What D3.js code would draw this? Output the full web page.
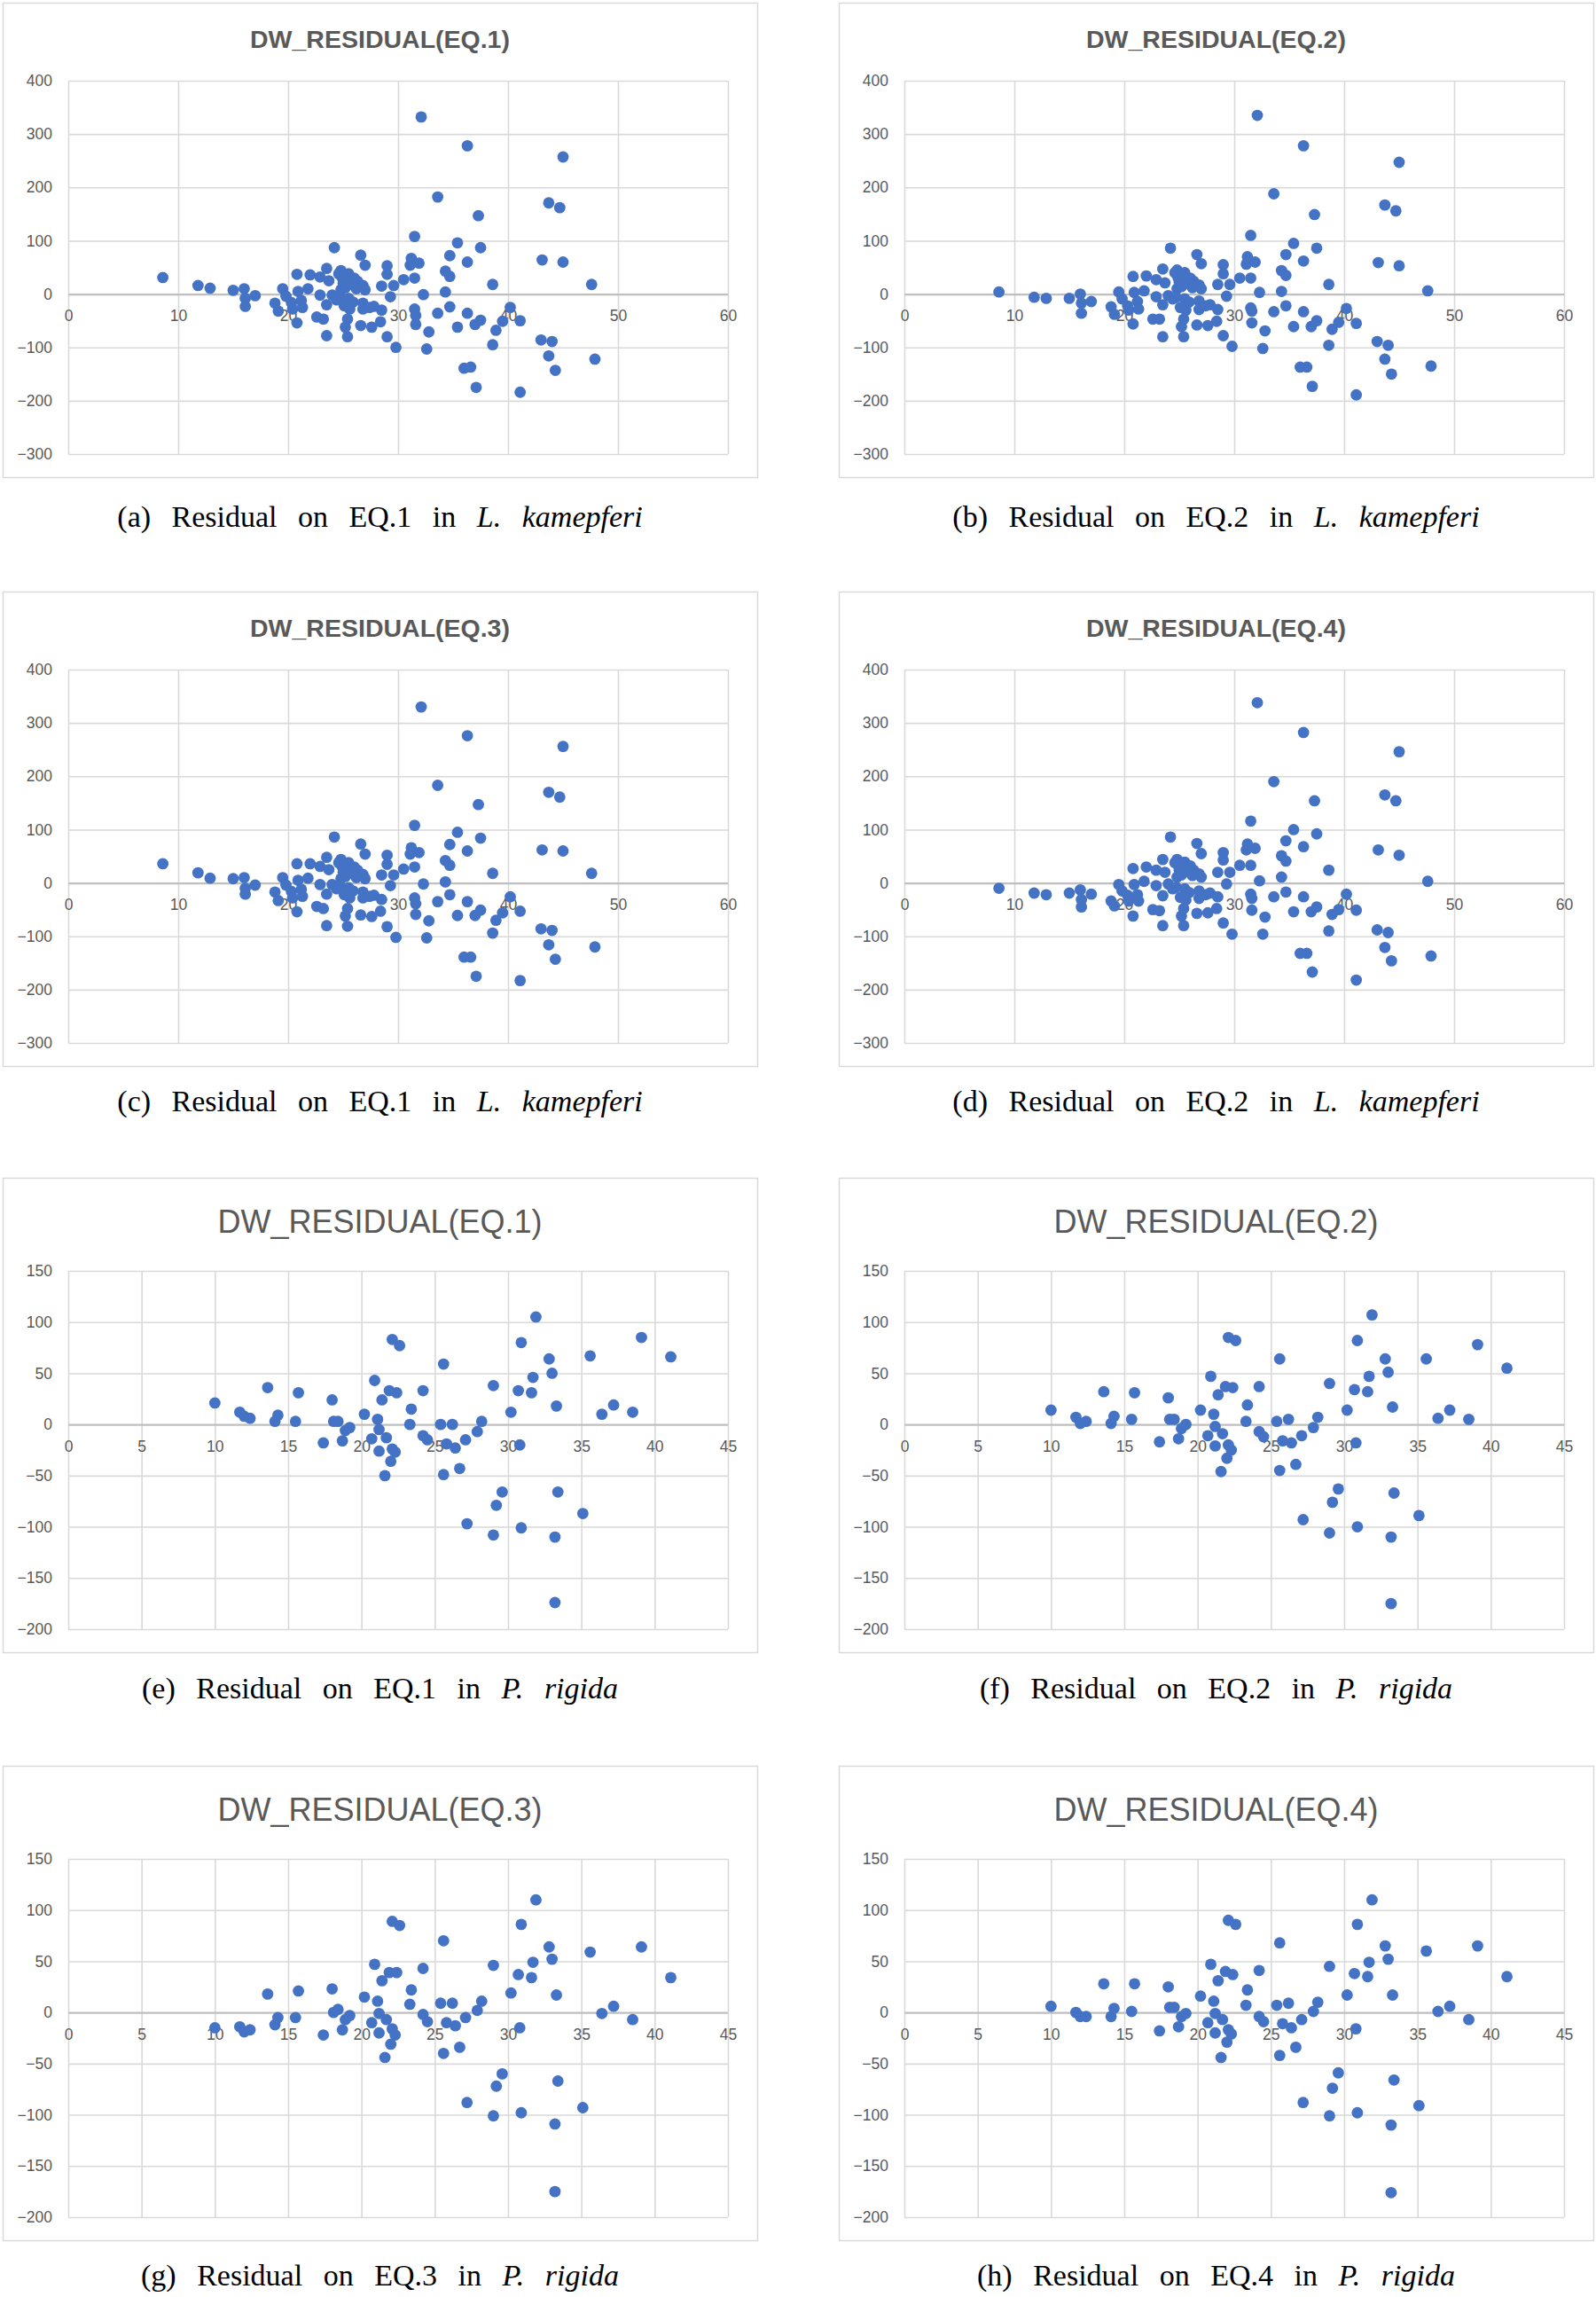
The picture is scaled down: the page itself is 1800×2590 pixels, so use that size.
<!DOCTYPE html>
<html><head><meta charset="utf-8">
<script src="https://cdnjs.cloudflare.com/ajax/libs/d3/7.8.5/d3.min.js"></script>
<style>body{margin:0;background:#fff}svg{display:block}</style>
</head><body>
<script>
// ---- L. kaempferi (top two rows): DBH (x) and residuals per equation ----
const xL = [8.6,11.8,12.9,15.0,16.0,16.1,16.1,17.0,18.8,19.1,19.5,19.8,20.3,20.4,20.8,20.8,20.9,21.2,21.3,21.8,22.0,22.6,22.9,22.9,23.2,23.5,23.5,23.5,23.7,24.0,24.2,24.4,24.8,24.8,24.9,25.1,25.2,25.4,25.4,25.5,25.5,25.7,26.3,26.6,26.6,26.8,26.8,26.8,27.0,27.0,27.4,27.6,27.8,28.4,28.5,28.5,29.0,29.0,29.0,29.3,29.6,29.8,30.5,31.1,31.2,31.5,31.5,31.5,31.6,31.6,31.9,32.1,32.3,32.6,32.8,33.6,33.6,34.3,34.3,34.7,34.7,34.7,35.4,35.4,36.0,36.3,36.3,36.3,36.6,37.0,37.1,37.3,37.5,37.5,38.6,38.6,38.9,39.5,40.2,41.1,41.1,43.0,43.1,43.7,43.7,44.0,44.3,44.7,45.0,45.0,47.6,47.9,24.6,25.0,25.2,25.3,25.8,26.0,25.9,25.6,24.7,26.2];
const resEq1L = [31,16,11,7,10,-8,-23,-3,-17,-32,10,-4,-16,-28,37,-54,5,-12,-25,10,36,-43,32,-2,-47,48,-20,-78,25,-2,87,-11,44,8,31,-22,-62,-47,-80,38,-8,27,24,73,-59,16,-17,-28,54,8,-25,-62,-23,-52,-30,15,53,37,-80,-5,16,-100,27,54,67,108,30,-28,-40,-57,58,332,-1,-103,-71,182,-36,4,43,33,72,-24,96,-62,-139,278,60,-36,-137,-57,-175,147,87,-49,-95,18,-68,-51,-25,-50,-184,-86,64,171,-116,-89,-143,162,60,257,18,-122,38,20,12,33,18,30,-15,-28,-5,10];
const resEq2L = [4,-6,-8,-8,0,-17,-36,-14,-24,-38,4,-9,-22,-30,33,-56,3,-14,-28,6,34,-47,27,-5,-47,47,-20,-80,21,-3,86,-9,45,10,30,-25,-61,-47,-80,40,-9,27,24,74,-58,17,-13,-29,57,10,-22,-59,-20,-51,-29,18,55,38,-78,-4,18,-98,30,56,70,110,30,-26,-32,-54,60,335,3,-102,-69,188,-33,5,44,35,74,-22,95,-61,-137,278,62,-33,-137,-61,-173,149,86,-50,-96,18,-66,-53,-27,-55,-189,-89,59,167,-122,-96,-150,156,53,247,6,-135,40,22,14,35,20,30,-15,-30,-6,12];
const resEq3L = [36,19,9,8,10,-10,-21,-4,-17,-33,10,-4,-16,-28,36,-54,5,-12,-25,9,36,-44,31,-3,-48,48,-21,-80,25,-3,86,-11,44,8,31,-22,-62,-48,-81,38,-9,27,24,73,-60,16,-17,-28,54,8,-25,-63,-23,-53,-31,15,52,35,-82,-5,15,-102,26,54,66,108,30,-28,-39,-59,57,330,-2,-103,-71,183,-35,2,42,33,72,-22,95,-61,-139,276,60,-35,-139,-61,-175,147,84,-51,-94,18,-70,-56,-26,-53,-183,-86,62,170,-116,-89,-143,161,60,256,18,-120,38,20,12,33,18,30,-15,-28,-5,10];
const resEq4L = [-10,-19,-22,-19,-13,-31,-45,-21,-34,-43,-3,-15,-23,-34,27,-62,-3,-22,-34,3,30,-50,24,-5,-52,44,-24,-80,20,-2,86,-11,44,11,33,-27,-62,-48,-80,39,-11,30,24,74,-57,17,-15,-29,55,11,-22,-56,-19,-48,-26,20,57,43,-75,-2,20,-96,33,62,73,116,33,-21,-29,-51,65,338,4,-96,-64,190,-26,11,51,41,79,-17,100,-54,-132,282,68,-26,-132,-54,-167,154,92,-45,-90,24,-59,-50,-21,-51,-182,-88,62,165,-121,-93,-146,154,52,246,3,-137,38,24,15,36,21,32,-18,-32,-8,14];

// ---- P. rigida (bottom two rows) ----
const xP = [10.0,11.7,12.0,12.4,13.6,14.1,14.3,15.5,15.7,17.4,18.0,18.1,18.4,18.7,18.9,19.2,20.2,20.7,20.9,21.1,21.2,21.2,21.4,21.6,21.7,21.9,22.0,22.1,22.1,22.3,22.4,22.6,23.3,23.4,24.2,24.2,24.5,25.4,25.6,25.6,25.8,26.2,26.4,26.7,27.1,27.2,27.9,28.2,29.0,29.0,29.2,29.6,30.2,30.7,30.8,30.9,30.9,31.6,31.7,31.9,32.8,33.0,33.2,33.2,33.3,33.4,35.1,35.6,36.4,37.2,38.5,39.1,41.1];
const resEq1P = [21,12,8,6,36,3,9,3,31,-18,24,3,3,-16,-6,-3,10,-14,43,5,-5,-26,24,-50,-13,33,-36,-24,83,-27,31,77,0,15,33,-11,-15,0,59,-49,-19,0,-23,-43,-15,-97,-7,3,38,-108,-79,-66,12,33,-20,80,-101,31,46,105,64,50,-110,-174,18,-66,-87,67,10,19,12,85,66];
const resEq2P = [14,7,1,3,32,1,8,5,31,-17,26,5,5,-14,-4,0,14,-11,47,10,-2,-21,29,-46,-9,37,-33,-20,85,-25,36,82,3,19,37,-7,-12,3,64,-45,-16,5,-18,-39,-11,-93,-3,7,40,-106,-76,-63,14,34,-18,82,-100,32,47,107,64,51,-110,-175,17,-67,-89,64,6,14,5,78,55];
const resEq3P = [-15,-14,-19,-17,18,-12,-5,-5,21,-22,23,0,3,-17,-7,-3,15,-10,47,11,-1,-20,31,-44,-7,39,-31,-16,89,-22,39,85,8,22,43,-2,-9,9,70,-40,-10,9,-13,-34,-5,-88,2,11,46,-101,-72,-60,19,37,-15,86,-98,34,49,110,64,52,-109,-175,17,-67,-93,59,-1,6,-7,64,34];
const resEq4P = [6,0,-4,-4,28,-4,4,1,28,-18,25,5,5,-14,-4,-1,16,-10,47,11,-1,-20,31,-44,-7,40,-29,-17,90,-21,37,86,7,22,41,-4,-9,7,68,-42,-11,9,-15,-34,-7,-88,1,10,45,-101,-74,-59,17,38,-16,86,-98,35,49,110,65,52,-110,-176,17,-66,-91,60,1,6,-7,65,35];

// ---- tick labels ----
const xTicksL = [0,10,20,30,40,50,60];
const yTicksL = [-300,-200,-100,0,100,200,300,400];
const xTicksP = [0,5,10,15,20,25,30,35,40,45];
const yTicksP = [-200,-150,-100,-50,0,50,100,150];

const titles = ["DW_RESIDUAL(EQ.1)","DW_RESIDUAL(EQ.2)","DW_RESIDUAL(EQ.3)","DW_RESIDUAL(EQ.4)","DW_RESIDUAL(EQ.1)","DW_RESIDUAL(EQ.2)","DW_RESIDUAL(EQ.3)","DW_RESIDUAL(EQ.4)"];
const captionLetters = ["(a)","(b)","(c)","(d)","(e)","(f)","(g)","(h)"];
const captionEqs = ["EQ.1","EQ.2","EQ.1","EQ.2","EQ.1","EQ.2","EQ.3","EQ.4"];
const genus = ["L.","L.","L.","L.","P.","P.","P.","P."];
const species = ["kamepferi","kamepferi","kamepferi","kamepferi","rigida","rigida","rigida","rigida"];

const seriesY = [resEq1L,resEq2L,resEq3L,resEq4L,resEq1P,resEq2P,resEq3P,resEq4P];

const W = 1800, H = 2590;
const svg = d3.select("body").append("svg").attr("width",W).attr("height",H);
svg.append("rect").attr("width",W).attr("height",H).attr("fill","#fff");

const colX = [3, 946], rowY = [3, 667, 1328, 1991];
const boxW = 851, boxH = 535;
const capY = [594, 1253, 1915, 2577];

for (let i = 0; i < 8; i++) {
  const row = Math.floor(i/2), col = i%2;
  const bx = colX[col], by = rowY[row];
  const isL = i < 4;
  const g = svg.append("g").attr("transform",`translate(${bx},${by})`);
  g.append("rect").attr("x",0.5).attr("y",0.5).attr("width",boxW).attr("height",boxH)
    .attr("fill","#fff").attr("stroke","#d9d9d9").attr("stroke-width",1.5);

  const left = 74, right = 818, top = isL ? 88 : 105, bottom = 509;
  const x = d3.scaleLinear().domain(isL ? [0,60] : [0,45]).range([left,right]);
  const y = d3.scaleLinear().domain(isL ? [-300,400] : [-200,150]).range([bottom,top]);
  const xt = isL ? xTicksL : xTicksP, yt = isL ? yTicksL : yTicksP;

  // title
  g.append("text").attr("x", boxW/2).attr("y", isL ? 51 : 62)
    .attr("text-anchor","middle").attr("fill","#595959")
    .attr("font-family","Liberation Sans, Arial, sans-serif")
    .attr("font-weight", isL ? "bold" : "normal")
    .attr("font-size", isL ? 28.5 : 36).text(titles[i]);

  // vertical gridlines
  const gx = g.append("g").attr("transform",`translate(0,${bottom})`)
    .call(d3.axisBottom(x).tickValues(xt).tickSize(-(bottom-top)).tickFormat(""));
  gx.select(".domain").remove();
  gx.selectAll("line").attr("stroke","#d9d9d9").attr("stroke-width",1.6);

  // horizontal gridlines + y labels
  const gy = g.append("g").attr("transform",`translate(${left},0)`)
    .call(d3.axisLeft(y).tickValues(yt).tickSize(-(right-left)).tickPadding(18));
  gy.select(".domain").remove();
  gy.selectAll("line").attr("stroke", d => d === 0 ? "#bfbfbf" : "#d9d9d9").attr("stroke-width", d => d===0 ? 2.2 : 1.6);
  gy.selectAll("text").attr("fill","#595959").attr("font-size",17.5)
    .attr("font-family","Liberation Sans, Arial, sans-serif");

  // x labels at zero line
  const gx2 = g.append("g").attr("transform",`translate(0,${y(0)})`)
    .call(d3.axisBottom(x).tickValues(xt).tickSize(0).tickPadding(18));
  gx2.select(".domain").remove();
  gx2.selectAll("text").attr("fill","#595959").attr("font-size",17.5)
    .attr("font-family","Liberation Sans, Arial, sans-serif");

  // points
  const xs = isL ? xL : xP, ys = seriesY[i];
  const n = Math.min(xs.length, ys.length);
  const pts = d3.range(n).map(k => [xs[k], ys[k]]);
  g.append("g").selectAll("circle").data(pts).join("circle")
    .attr("cx", d => x(d[0])).attr("cy", d => y(d[1])).attr("r", 6.4)
    .attr("fill","#4472c4");

  // caption
  const cap = svg.append("text").attr("x", bx + boxW/2).attr("y", capY[row])
    .attr("text-anchor","middle").attr("font-family","Liberation Serif, Times New Roman, serif")
    .attr("font-size",34).attr("fill","#000").style("word-spacing","15px");
  cap.append("tspan").text(`${captionLetters[i]} Residual on ${captionEqs[i]} in `);
  cap.append("tspan").attr("font-style","italic").text(genus[i]);
  cap.append("tspan").text(" ");
  cap.append("tspan").attr("font-style","italic").text(species[i]);
}
</script>
</body></html>
